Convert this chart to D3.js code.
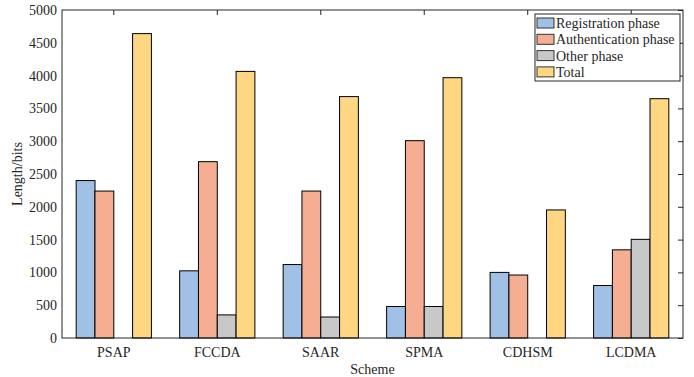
<!DOCTYPE html>
<html>
<head>
<meta charset="utf-8">
<script src="https://cdn.jsdelivr.net/npm/d3@7"></script>
<style>
  body { margin: 0; background: #fff; }
  svg text { font-family: "Liberation Serif", "Times New Roman", serif !important; fill: #262626; }
</style>
</head>
<body>
<div class="chart"></div>
<script>
var schemes = ["PSAP", "FCCDA", "SAAR", "SPMA", "CDHSM", "LCDMA"];
var seriesNames = ["Registration phase", "Authentication phase", "Other phase", "Total"];
var registration = [2400, 1024, 1120, 480, 1000, 800];
var authentication = [2240, 2688, 2240, 3008, 960, 1344];
var other = [0, 352, 320, 480, 0, 1504];
var total = [4640, 4064, 3680, 3968, 1952, 3648];
var yTicks = [0, 500, 1000, 1500, 2000, 2500, 3000, 3500, 4000, 4500, 5000];
var colors = ["#a0c1e5", "#f5ae92", "#c8c8c8", "#ffd682"];

var series = [registration, authentication, other, total];

var svgWidth = 694;
var svgHeight = 377;
var margin = { top: 10, right: 11, bottom: 39, left: 62 };
var width = svgWidth - margin.left - margin.right;
var height = svgHeight - margin.top - margin.bottom;

var svg = d3.select(".chart")
  .append("svg")
  .attr("width", svgWidth)
  .attr("height", svgHeight)
  .attr("font-family", "Liberation Serif");

var chartGroup = svg.append("g")
  .attr("transform", `translate(${margin.left}, ${margin.top})`);

// category scale, each band is one group
var xScale = d3.scaleBand()
  .domain(schemes)
  .range([0, width])
  .paddingInner(0.273)
  .paddingOuter(0.137);

var xSub = d3.scaleBand()
  .domain(d3.range(series.length))
  .range([0, xScale.bandwidth()]);

var yScale = d3.scaleLinear()
  .domain([0, 5000])
  .range([height, 0]);

// bars
series.forEach(function (vals, s) {
  chartGroup.append("g")
    .selectAll("rect")
    .data(vals)
    .enter()
    .append("rect")
    .attr("x", (d, i) => xScale(schemes[i]) + xSub(s))
    .attr("y", d => yScale(d))
    .attr("width", xSub.bandwidth())
    .attr("height", d => height - yScale(d))
    .attr("fill", colors[s])
    .attr("stroke", d => d > 0 ? "#000" : "none")
    .attr("stroke-width", 1);
});

// axes (ticks inside, matlab style)
var leftAxis = d3.axisLeft(yScale).tickValues(yTicks).tickSize(0).tickPadding(5).tickFormat(d3.format("d"));
var rightAxis = d3.axisLeft(yScale).tickValues(yTicks).tickSize(5).tickFormat("");
var bottomAxis = d3.axisBottom(xScale).tickSize(0).tickPadding(9);
var topAxis = d3.axisBottom(xScale).tickSize(5).tickFormat("");

var yAxisG = chartGroup.append("g").call(leftAxis);
chartGroup.append("g").attr("transform", `translate(${width},0)`).call(rightAxis);
var xAxisG = chartGroup.append("g").attr("transform", `translate(0, ${height})`).call(bottomAxis);
chartGroup.append("g").call(topAxis);

chartGroup.selectAll(".domain").remove();
chartGroup.selectAll(".tick line").attr("stroke", "#262626");
chartGroup.selectAll("g").attr("font-family", "Liberation Serif").attr("font-size", 14);
yAxisG.selectAll("text").style("font-size", "14px").attr("fill", "#262626");
xAxisG.selectAll("text").style("font-size", "14px").attr("fill", "#262626");

// frame
chartGroup.append("rect")
  .attr("width", width)
  .attr("height", height)
  .attr("fill", "none")
  .attr("stroke", "#262626")
  .attr("stroke-width", 1);

// axis labels
chartGroup.append("text")
  .attr("x", width / 2)
  .attr("y", height + 36)
  .attr("text-anchor", "middle")
  .style("font-size", "14px")
  .text("Scheme");

chartGroup.append("text")
  .attr("transform", "rotate(-90)")
  .attr("x", -height / 2)
  .attr("y", -40)
  .attr("text-anchor", "middle")
  .style("font-size", "14px")
  .text("Length/bits");

// legend
var legend = svg.append("g")
  .attr("transform", "translate(535, 14)");

legend.append("rect")
  .attr("width", 145)
  .attr("height", 67)
  .attr("fill", "#fff")
  .attr("stroke", "#262626")
  .attr("stroke-width", 1);

seriesNames.forEach(function (name, i) {
  var row = legend.append("g").attr("transform", `translate(2, ${4 + i * 16.3})`);
  row.append("rect")
    .attr("width", 17)
    .attr("height", 10)
    .attr("fill", colors[i])
    .attr("stroke", "#333")
    .attr("stroke-width", 1);
  row.append("text")
    .attr("x", 19)
    .attr("y", 10)
    .style("font-size", "14px")
    .text(name);
});
</script>
</body>
</html>
